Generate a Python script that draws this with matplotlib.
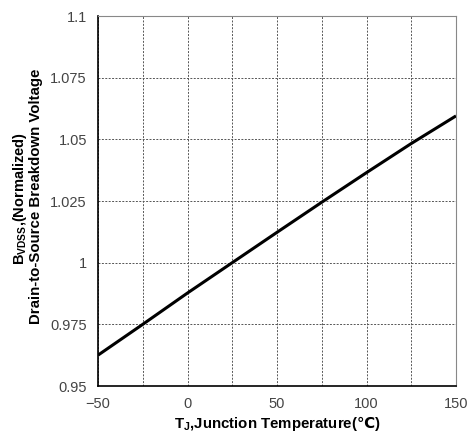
import numpy as np
import matplotlib
matplotlib.use("Agg")
import matplotlib.pyplot as plt
from matplotlib.ticker import MultipleLocator

# Normalized BVDSS vs junction temperature
temp_c = [-50, -25, 0, 25, 50, 75, 100, 125, 150]
bvdss_norm = [0.9625, 0.975, 0.9877, 1.0, 1.0123, 1.0245, 1.0365, 1.0483, 1.0595]

x_lim = (-50, 150)
y_lim = (0.95, 1.1)
y_ticks = [0.95, 0.975, 1.0, 1.025, 1.05, 1.075, 1.1]
y_tick_labels = ["0.95", "0.975", "1", "1.025", "1.05", "1.075", "1.1"]

plt.rcParams["font.family"] = ["Liberation Sans", "DejaVu Sans"]

W, H = 471, 436
fig = plt.figure(figsize=(W / 100, H / 100), dpi=100)
ax = fig.add_axes([98 / W, 1 - 386 / H, 358 / W, 370 / H])

ax.plot(temp_c, bvdss_norm, color="black", lw=2.2, solid_capstyle="butt", zorder=3)

ax.set_xlim(*x_lim)
ax.set_ylim(*y_lim)
ax.xaxis.set_major_locator(MultipleLocator(50))
ax.xaxis.set_minor_locator(MultipleLocator(25))
ax.set_yticks(y_ticks)
ax.set_yticklabels(y_tick_labels)

ax.grid(which="both", axis="x", color="#555555", ls=(0, (2, 1.5)), lw=0.7)
ax.grid(which="major", axis="y", color="#555555", ls=(0, (2, 1.5)), lw=0.7)
ax.tick_params(which="both", length=0, labelsize=10.5, labelcolor="#444444", pad=8)

for side in ("left", "bottom"):
    ax.spines[side].set_color("black")
    ax.spines[side].set_linewidth(1.2)
for side in ("top", "right"):
    ax.spines[side].set_color("#888888")
    ax.spines[side].set_linewidth(0.8)

# degree-Celsius sign comes from DejaVu Sans Bold via mathtext \mathbf
ax.set_xlabel("T$_\\mathregular{J}$,Junction Temperature($\\mathbf{\u2103}$)",
              fontsize=10.8, fontweight="bold", labelpad=2)

# two-line y label, each line placed on its own
fig.text(20 / W, 1 - 199 / H, "B$_\\mathregular{VDSS}$,(Normalized)",
         rotation=90, ha="center", va="center", fontsize=10.5, fontweight="bold")
fig.text(36 / W, 1 - 196 / H, "Drain-to-Source Breakdown Voltage",
         rotation=90, ha="center", va="center", fontsize=10.8, fontweight="bold")

fig.savefig("out.png", dpi=100)
